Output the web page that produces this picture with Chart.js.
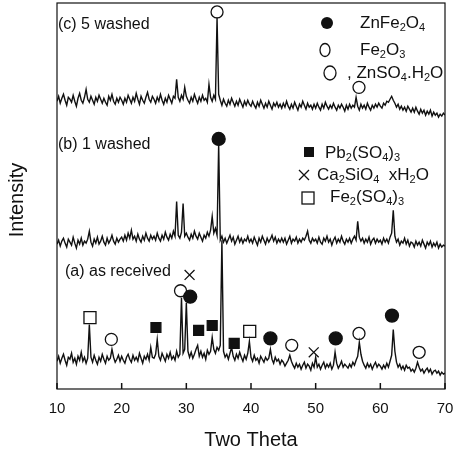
<!DOCTYPE html>
<html>
<head>
<meta charset="utf-8">
<script src="https://cdn.jsdelivr.net/npm/chart.js@4"></script>
<style>
  body { margin: 0; background: #fff; }
  #wrap { width: 455px; height: 453px; }
</style>
</head>
<body>
<div id="wrap"><canvas id="xrd" width="455" height="453"></canvas></div>
<script>
// XRD patterns, 2θ from 10 to 70 in steps of 0.25 (arbitrary intensity units, offset per pattern)
const THETA_START = 10;
const THETA_STEP = 0.25;
const xTicks = [10, 20, 30, 40, 50, 60, 70];

// (a) as received
const asReceived = [
  26,31,24,29,33,27,22,30,28,34,25,29,23,31,27,35,26,30,24,29,
  63,30,25,32,27,23,30,26,33,28,24,31,27,29,38,30,25,28,32,26,
  31,27,24,30,33,28,25,32,27,30,26,34,29,24,31,28,33,27,40,30,
  29,33,48,31,27,34,30,26,33,29,35,28,31,27,36,30,33,90,34,38,
  85,36,30,35,29,33,38,42,31,36,30,34,28,37,33,36,50,38,34,40,
  37,42,148,36,30,33,28,34,40,31,27,33,29,35,30,26,32,28,34,46,
  30,26,32,27,29,24,31,28,25,30,27,29,38,28,24,30,26,28,23,27,
  25,21,24,27,32,26,22,19,24,20,23,18,22,25,19,23,21,17,24,20,
  30,20,23,18,22,25,19,23,20,24,18,22,35,24,19,22,26,20,23,21,
  19,23,20,25,22,27,31,45,33,26,22,19,24,20,23,18,22,25,20,23,
  21,18,22,19,24,20,26,32,58,36,25,20,23,18,21,17,22,19,20,16,
  18,15,19,25,20,16,18,14,17,19,15,18,13,16,17,14,16,12,15,13,
  14
];

// (b) 1 washed
const washed1 = [
  144,148,142,147,150,145,141,149,146,143,151,145,140,148,144,150,143,147,145,149,
  157,146,142,149,145,151,144,147,152,146,143,150,145,148,153,147,144,150,146,149,
  151,147,153,148,155,150,158,149,152,147,154,149,146,152,148,155,150,147,153,149,
  152,148,155,150,147,153,149,156,151,148,154,150,157,152,187,153,150,156,185,152,
  155,151,148,154,150,157,152,149,155,151,147,153,150,156,152,158,172,155,160,153,
  245,148,152,146,150,145,149,153,147,151,144,148,152,146,150,145,149,147,152,146,
  149,145,151,147,143,150,146,152,148,144,150,146,149,153,147,151,145,149,146,150,
  146,150,144,148,152,145,149,147,151,145,149,146,150,148,152,157,148,145,150,147,
  149,145,151,146,144,150,147,152,146,149,143,148,151,145,149,146,152,147,144,149,
  146,150,145,149,152,148,167,151,147,150,145,149,146,151,144,148,150,145,149,146,
  148,144,150,146,149,145,151,155,178,152,146,149,143,147,145,150,144,148,142,146,
  145,141,147,143,146,142,148,144,140,146,143,147,141,145,142,146,140,144,141,143,
  142
];

// (c) 5 washed
const washed5 = [
  288,293,286,291,295,289,284,292,290,287,294,288,283,291,296,289,286,292,300,290,
  287,293,289,285,292,288,294,290,286,291,287,284,293,289,295,288,285,291,287,292,
  289,285,291,287,294,290,286,292,288,296,290,285,293,289,286,292,297,290,287,293,
  290,286,292,288,295,289,285,291,287,294,290,286,293,291,310,292,288,294,290,302,
  293,289,286,292,288,295,290,286,292,288,294,289,291,287,305,292,288,294,290,372,
  295,289,284,290,286,283,289,285,291,287,283,288,284,290,286,282,288,284,289,285,
  283,288,284,281,287,283,289,285,281,286,282,288,284,280,286,283,287,282,285,281,
  286,282,288,283,280,285,281,287,283,279,285,282,288,284,280,286,282,284,280,285,
  281,286,282,279,285,281,287,283,280,284,281,286,282,279,284,281,285,282,278,284,
  280,285,281,284,282,292,283,279,285,281,284,280,286,282,279,284,281,285,282,286,
  283,281,286,284,288,287,290,293,289,286,282,285,280,283,279,282,278,283,280,277,
  281,277,282,278,275,280,276,279,274,278,275,279,273,277,274,276,272,275,273,276,
  274
];

// phase markers [2θ, height]
const znFe2O4Marks = [[35.0, 250], [30.6, 91], [43.0, 49], [53.1, 49], [61.8, 72]];
const fe2O3Marks   = [[34.75, 378], [29.1, 97]];
const znSO4Marks   = [[56.7, 302], [18.4, 48], [46.3, 42], [56.7, 54], [66.0, 35]];
const pbSO4Marks   = [[25.3, 60], [31.9, 57], [34.0, 62], [37.4, 44]];
const caSiO4Marks  = [[30.5, 113], [49.7, 35]];
const feSO4Marks   = [[15.1, 70], [39.8, 56]];

const INK = '#111';
const FONT = '"Liberation Sans", Arial, sans-serif';

function toPoints(values) {
  return values.map((v, i) => ({ x: THETA_START + i * THETA_STEP, y: v }));
}

function toMarks(list) {
  return list.map(m => ({ x: m[0], y: m[1] }));
}

function traceSet(values) {
  return {
    data: toPoints(values),
    borderColor: INK,
    borderWidth: 1.4,
    pointRadius: 0,
    tension: 0
  };
}

function markSet(list, style, radius, filled) {
  return {
    data: toMarks(list),
    showLine: false,
    pointStyle: style,
    pointRadius: radius,
    pointBorderWidth: 1.3,
    pointBorderColor: INK,
    pointBackgroundColor: filled ? INK : '#fff'
  };
}

// draw formula text, "_x" means subscript x
function drawChem(ctx, str, x, y, size) {
  let cx = x;
  ctx.textBaseline = 'middle';
  ctx.textAlign = 'left';
  for (let i = 0; i < str.length; i++) {
    let ch = str[i];
    let sub = false;
    if (ch === '_') { sub = true; ch = str[++i]; }
    ctx.font = (sub ? Math.round(size * 0.65) : size) + 'px ' + FONT;
    ctx.fillText(ch, cx, sub ? y + size * 0.3 : y);
    cx += ctx.measureText(ch).width;
  }
}

const decorPlugin = {
  id: 'decor',
  afterDatasetsDraw(chart) {
    const { ctx, chartArea: a, scales } = chart;
    ctx.save();
    ctx.strokeStyle = INK;
    ctx.fillStyle = INK;
    ctx.lineWidth = 1.2;
    ctx.strokeRect(a.left, a.top, a.right - a.left, a.bottom - a.top);

    // inward ticks on the 2θ axis
    ctx.lineWidth = 1.5;
    xTicks.forEach(t => {
      const px = scales.x.getPixelForValue(t);
      ctx.beginPath();
      ctx.moveTo(px, a.bottom);
      ctx.lineTo(px, a.bottom - 6);
      ctx.stroke();
    });

    // pattern labels
    drawChem(ctx, '(c) 5 washed', 58, 25, 16);
    drawChem(ctx, '(b) 1 washed', 58, 145, 16);
    drawChem(ctx, '(a) as received', 65, 272, 16);

    // legend, upper group
    ctx.lineWidth = 1.3;
    ctx.beginPath(); ctx.arc(327, 23, 6, 0, Math.PI * 2); ctx.fill();
    drawChem(ctx, 'ZnFe_2O_4', 360, 23, 17);
    ctx.beginPath(); ctx.ellipse(325, 50, 5, 6.5, 0, 0, Math.PI * 2); ctx.stroke();
    drawChem(ctx, 'Fe_2O_3', 360, 50, 17);
    ctx.beginPath(); ctx.ellipse(330, 73, 6, 7, 0, 0, Math.PI * 2); ctx.stroke();
    drawChem(ctx, ', ZnSO_4.H_2O', 347, 73, 17);

    // legend, middle group
    ctx.fillRect(304, 147, 10, 10);
    drawChem(ctx, 'Pb_2(SO_4)_3', 325, 153, 17);
    ctx.beginPath();
    ctx.moveTo(299, 170); ctx.lineTo(309, 180);
    ctx.moveTo(309, 170); ctx.lineTo(299, 180);
    ctx.stroke();
    drawChem(ctx, 'Ca_2SiO_4  xH_2O', 317, 175, 17);
    ctx.strokeRect(302, 192, 12, 12);
    drawChem(ctx, 'Fe_2(SO_4)_3', 330, 197, 17);

    // y title
    ctx.translate(17, 200);
    ctx.rotate(-Math.PI / 2);
    ctx.font = '20px ' + FONT;
    ctx.textAlign = 'center';
    ctx.textBaseline = 'middle';
    ctx.fillText('Intensity', 0, 0);
    ctx.restore();
  }
};

new Chart(document.getElementById('xrd'), {
  type: 'line',
  data: {
    datasets: [
      traceSet(washed5),
      traceSet(washed1),
      traceSet(asReceived),
      markSet(znFe2O4Marks, 'circle', 6.5, true),
      markSet(fe2O3Marks, 'circle', 6, false),
      markSet(znSO4Marks, 'circle', 6, false),
      markSet(pbSO4Marks, 'rect', 7, true),
      markSet(caSiO4Marks, 'crossRot', 7, false),
      markSet(feSO4Marks, 'rect', 8.5, false)
    ]
  },
  options: {
    responsive: false,
    animation: false,
    events: [],
    layout: { autoPadding: false, padding: { left: 57, right: 10, top: 3, bottom: 1 } },
    plugins: { legend: { display: false }, tooltip: { enabled: false } },
    scales: {
      x: {
        type: 'linear',
        min: 10,
        max: 70,
        afterBuildTicks: axis => { axis.ticks = xTicks.map(v => ({ value: v })); },
        afterFit: axis => { axis.paddingLeft = 0; axis.paddingRight = 0; },
        ticks: { color: INK, font: { size: 15, family: FONT, lineHeight: 1 }, padding: 12 },
        grid: { display: false, drawTicks: false },
        border: { display: false },
        title: {
          display: true,
          text: 'Two Theta',
          color: INK,
          font: { size: 20, family: FONT },
          padding: { top: 0, bottom: 0 }
        }
      },
      y: {
        display: false,
        min: -2,
        max: 387
      }
    }
  },
  plugins: [decorPlugin]
});
</script>
</body>
</html>
